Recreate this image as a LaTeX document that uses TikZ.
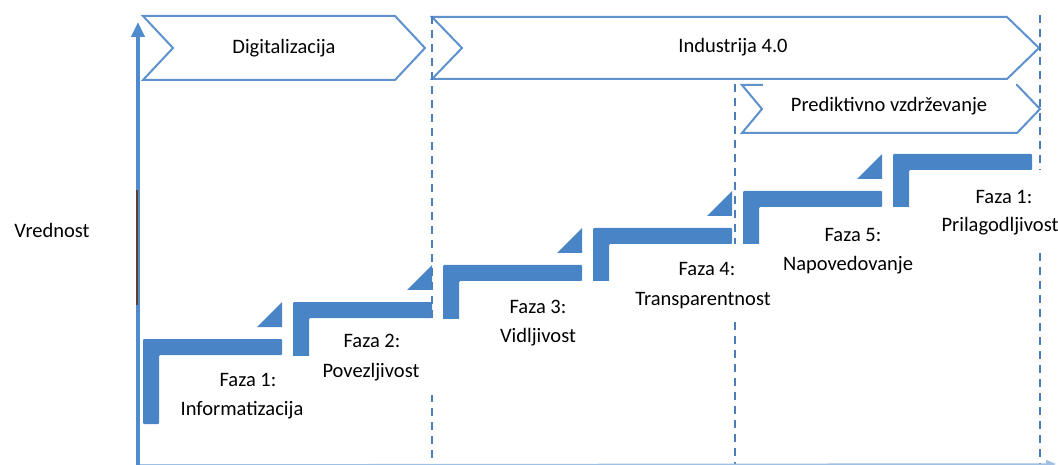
\documentclass[tikz,border=0pt]{standalone}
\usepackage{fontspec}
\setmainfont{Carlito}
\usetikzlibrary{arrows.meta}
\definecolor{stepblue}{RGB}{72,132,198}
\definecolor{chevblue}{RGB}{95,145,205}
\definecolor{dashblue}{RGB}{75,125,185}
\definecolor{axisbrown}{RGB}{95,62,45}
\definecolor{axisblue}{RGB}{80,140,205}
\begin{document}
\begin{tikzpicture}[x=1pt,y=-1pt,
  lbl/.style={font=\fontsize{20.5}{26}\selectfont, inner sep=0pt, text height=15pt, text depth=4pt},
  chev/.style={draw=chevblue, line width=2pt, fill=white, line join=miter},
  phase/.style={dashblue, line width=2pt, dash pattern=on 8pt off 6pt},
  stepfill/.style={fill=stepblue},
  cover/.style={fill=white}]
\useasboundingbox (0,0) rectangle (1058,465);
\fill[white] (0,0) rectangle (1058,465);

% chevrons
\draw[chev] (143,16) -- (395,16) -- (425,48) -- (395,80) -- (143,80) -- (173,48) -- cycle;
\draw[chev] (432,17) -- (1007,17) -- (1039,48) -- (1007,79) -- (432,79) -- (462,48) -- cycle;

% steps
\foreach \k in {0,...,5}{
  \pgfmathsetmacro{\xa}{143+150*\k}
  \pgfmathsetmacro{\ta}{339-37*\k}
  \pgfmathsetmacro{\xe}{\xa+139}
  \fill[stepfill, rounded corners=1pt] (\xa,\ta) -- (\xe,\ta) -- (\xe,\ta+16) -- (\xa+16,\ta+16) -- (\xa+16,\ta+85) -- (\xa,\ta+85) -- cycle;
}
% rising triangles towards the next step
\foreach \k in {0,...,4}{
  \pgfmathsetmacro{\ta}{339-37*\k}
  \pgfmathsetmacro{\xe}{143+150*\k+139}
  \fill[stepfill] (\xe-25,\ta-12) -- (\xe,\ta-37) -- (\xe,\ta-12) -- cycle;
}

% phase separators
\coordinate (d1t) at (432,16);  \coordinate (d1b) at (432,465);
\coordinate (d2t) at (735,84);  \coordinate (d2b) at (735,465);
\coordinate (d3t) at (1040,15); \coordinate (d3b) at (1040,465);
\draw[phase] (d1t) -- (d1b);
\draw[phase] (d2t) -- (d2b);
\draw[phase] (d3t) -- (d3b);

% white label boxes
\foreach \k in {0,...,5}{
  \pgfmathsetmacro{\xa}{143+150*\k}
  \pgfmathsetmacro{\ta}{339-37*\k}
  \fill[cover] (\xa+16.5,\ta+16.5) rectangle (\xa+192,\ta+93);
}

% predictive maintenance chevron
\draw[chev] (742,85) -- (1017,85) -- (1040,109) -- (1017,133) -- (742,133) -- (762,109) -- cycle;
\fill[cover] (763,83) rectangle (1016,128);

% axes
\coordinate (ybot) at (138,465);
\coordinate (ytop) at (138,22);
\coordinate (xend) at (1056,464);
\draw[axisblue!55, line width=1.5pt, -{Triangle[length=10pt,width=8pt]}] (ybot) -- (xend);
\draw[axisblue, line width=4pt, -{Triangle[length=15pt,width=13pt]}] (ybot) -- (ytop);
\coordinate (br1) at (137,190);
\coordinate (br2) at (137,305);
\draw[axisbrown, line width=2.5pt] (br1) -- (br2);

% labels
\node[lbl] (dig) at (284,48) {Digitalizacija};
\node[lbl] (ind) at (733,47) {Industrija 4.0};
\node[lbl] (pred) at (889,106) {Prediktivno vzdrževanje};
\node[lbl] (vred) at (52,232) {Vrednost};

\node[lbl] (f1a) at (248,381) {Faza 1:};
\node[lbl] (f1b) at (242,410) {Informatizacija};
\node[lbl] (f2a) at (372,342) {Faza 2:};
\node[lbl] (f2b) at (371,372) {Povezljivost};
\node[lbl] (f3a) at (538,308) {Faza 3:};
\node[lbl] (f3b) at (538,337) {Vidljivost};
\node[lbl] (f4a) at (707,270) {Faza 4:};
\node[lbl] (f4b) at (703,300) {Transparentnost};
\node[lbl] (f5a) at (853,236) {Faza 5:};
\node[lbl] (f5b) at (848,265) {Napovedovanje};
\node[lbl] (f6a) at (1004,198) {Faza 1:};
\node[lbl] (f6b) at (1000,226) {Prilagodljivost};
\end{tikzpicture}
\end{document}
